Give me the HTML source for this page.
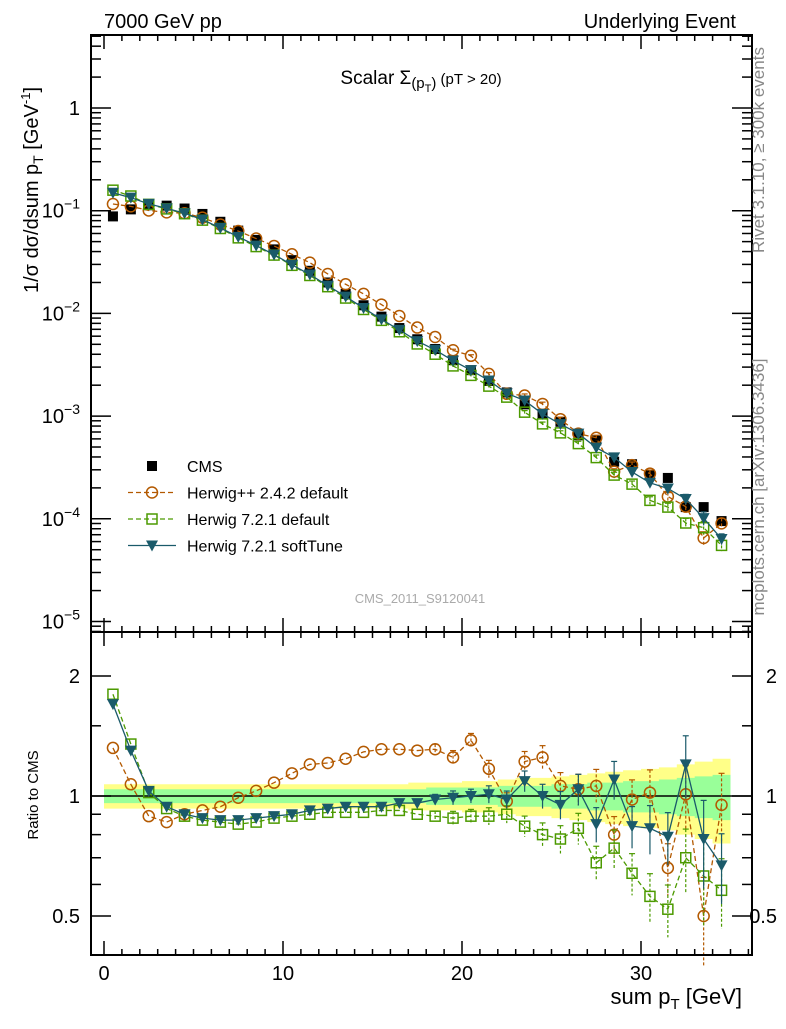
<!DOCTYPE html>
<html><head><meta charset="utf-8"><style>
body{margin:0;background:#fff}
svg text{font-family:"Liberation Sans",Arial,sans-serif}
</style></head><body>
<svg id="c" width="786" height="1024" viewBox="0 0 786 1024" xmlns="http://www.w3.org/2000/svg">
<g id="bands"></g><g id="plots"></g><g id="axes"></g>
<text x="104" y="28" font-size="20">7000 GeV pp</text>
<text x="736" y="28" font-size="20" text-anchor="end">Underlying Event</text>
<text x="421" y="84" font-size="19" text-anchor="middle">Scalar Σ<tspan font-size="15" dy="4">(p</tspan><tspan font-size="11" dy="4">T</tspan><tspan font-size="15" dy="-4">)</tspan><tspan font-size="15" dy="-4"> (pT &gt; 20)</tspan></text>
<text x="420" y="603" font-size="13" fill="#aaa" text-anchor="middle">CMS_2011_S9120041</text>
<text transform="translate(764,150) rotate(-90)" font-size="17" fill="#888" text-anchor="middle">Rivet 3.1.10, ≥ 300k events</text>
<text transform="translate(764,487) rotate(-90)" font-size="17" fill="#888" text-anchor="middle">mcplots.cern.ch [arXiv:1306.3436]</text>
<text transform="translate(38,190) rotate(-90)" font-size="20" text-anchor="middle">1/σ dσ/dsum p<tspan font-size="14" dy="5">T</tspan><tspan dy="-5"> [GeV</tspan><tspan font-size="13" dy="-8">-1</tspan><tspan dy="8">]</tspan></text>
<text transform="translate(38,795) rotate(-90)" font-size="15" text-anchor="middle">Ratio to CMS</text>
<text x="742" y="1004" font-size="22" text-anchor="end">sum p<tspan font-size="15" dy="5">T</tspan><tspan dy="-5"> [GeV]</tspan></text>
<g id="legend"></g>
</svg>
<script>
const xc=[0.5,1.5,2.5,3.5,4.5,5.5,6.5,7.5,8.5,9.5,10.5,11.5,12.5,13.5,14.5,15.5,16.5,17.5,18.5,19.5,20.5,21.5,22.5,23.5,24.5,25.5,26.5,27.5,28.5,29.5,30.5,31.5,32.5,33.5,34.5];
const cms=[0.088,0.103,0.113,0.112,0.105,0.093,0.078,0.064,0.052,0.042,0.033,0.026,0.020,0.0155,0.012,0.0093,0.0072,0.0056,0.0045,0.0035,0.0028,0.0022,0.0017,0.0013,0.00105,0.00088,0.00065,0.00058,0.00036,0.00034,0.00027,0.00025,0.00013,0.00013,0.000095];
const rHpp=[1.32,1.07,0.89,0.86,0.90,0.92,0.94,0.99,1.03,1.08,1.14,1.20,1.21,1.24,1.29,1.31,1.31,1.30,1.31,1.25,1.38,1.17,0.97,1.22,1.25,1.06,1.04,1.06,0.80,0.98,1.02,0.66,1.01,0.50,0.95];
const rH7=[1.80,1.35,1.02,0.93,0.89,0.87,0.86,0.85,0.86,0.88,0.89,0.90,0.91,0.91,0.91,0.92,0.92,0.90,0.89,0.88,0.89,0.89,0.90,0.84,0.80,0.78,0.83,0.68,0.74,0.64,0.56,0.52,0.70,0.63,0.58];
const rSoft=[1.70,1.30,1.03,0.94,0.90,0.88,0.87,0.87,0.88,0.89,0.90,0.92,0.93,0.94,0.94,0.94,0.96,0.96,0.98,0.99,1.00,1.01,0.98,1.09,1.00,0.95,1.04,0.85,1.10,0.84,0.83,0.79,1.20,0.78,0.67];
const errRel=[0.01,0.01,0.01,0.01,0.01,0.01,0.01,0.01,0.01,0.01,0.01,0.01,0.01,0.01,0.02,0.02,0.02,0.02,0.03,0.04,0.04,0.05,0.05,0.06,0.07,0.08,0.09,0.1,0.11,0.12,0.14,0.15,0.18,0.25,0.2];
const bandIn=[0.04,0.04,0.04,0.04,0.04,0.04,0.04,0.04,0.04,0.04,0.04,0.04,0.04,0.04,0.04,0.04,0.04,0.04,0.05,0.05,0.05,0.05,0.06,0.06,0.06,0.07,0.07,0.08,0.08,0.09,0.09,0.10,0.11,0.12,0.13];
const bandOut=[0.07,0.07,0.07,0.07,0.07,0.07,0.07,0.07,0.07,0.07,0.07,0.07,0.07,0.07,0.07,0.07,0.07,0.08,0.08,0.08,0.09,0.09,0.10,0.11,0.11,0.12,0.13,0.14,0.15,0.16,0.17,0.18,0.20,0.22,0.24];
const xTicks=[0,10,20,30];
const yTicks=[-5,-4,-3,-2,-1,0];
const rTicks=[0.5,1,2];

const NS="http://www.w3.org/2000/svg";
const L=91,R=752,T=35,M=632,B=955;
const X=v=>104+v*17.9;
const Y=v=>108-Math.log10(v)*102.7;
const RY=v=>796-Math.log2(v)*120;
function mk(p,tag,a){const e=document.createElementNS(NS,tag);for(const k in a)e.setAttribute(k,a[k]);p.appendChild(e);return e;}
const bands=document.getElementById('bands'),plots=document.getElementById('plots'),axes=document.getElementById('axes');
function bandPath(w){let up='',dn='';xc.forEach((x,i)=>{up+=(i?'L':'M')+X(x-0.5)+','+RY(1+w[i])+'L'+X(x+0.5)+','+RY(1+w[i]);});for(let i=xc.length-1;i>=0;i--){dn+='L'+X(xc[i]+0.5)+','+RY(1-w[i])+'L'+X(xc[i]-0.5)+','+RY(1-w[i]);}return up+dn+'Z';}
let b1=mk(bands,'path',{d:bandPath(bandOut),fill:'#ffff88'});


let b2=mk(bands,'path',{d:bandPath(bandIn),fill:'#99ff99'});


let l1=mk(bands,'line',{x1:L,x2:R,y1:RY(1),y2:RY(1),stroke:'#000','stroke-width':1.5});


function marker(g,type,cx,cy,col){
 if(type==='sq')return mk(g,'rect',{x:cx-5,y:cy-5,width:10,height:10,fill:col});
 if(type==='circ')return mk(g,'circle',{cx,cy,r:5.5,fill:'none',stroke:col,'stroke-width':1.5});
 if(type==='osq')return mk(g,'rect',{x:cx-5,y:cy-5,width:10,height:10,fill:'none',stroke:col,'stroke-width':1.5});
 if(type==='tri')return mk(g,'path',{d:`M${cx-6},${cy-5}L${cx+6},${cy-5}L${cx},${cy+6}Z`,fill:col});
}
const series=[
 {name:'herwigpp-242-default',r:rHpp,col:'#b35900',type:'circ',dash:'5,3'},
 {name:'herwig-721-default',r:rH7,col:'#4c9a00',type:'osq',dash:'5,3'},
 {name:'herwig-721-softtune',r:rSoft,col:'#1a5a6a',type:'tri',dash:''}
];
let gc=mk(plots,'g',{});


xc.forEach((x,i)=>{const m=marker(gc,'sq',X(x),Y(cms[i]),'#000');

});
series.forEach(s=>{
 [Y,RY].forEach((fy,pi)=>{
  const g=mk(plots,'g',{});
  
  
  const val=i=>pi?s.r[i]:s.r[i]*cms[i];
  let d='';xc.forEach((x,i)=>{d+=(i?'L':'M')+X(x)+','+fy(val(i));});
  mk(g,'path',{d,fill:'none',stroke:s.col,'stroke-width':1.3,'stroke-dasharray':s.dash});
  xc.forEach((x,i)=>{const v=val(i),e=errRel[i]*(pi?1:0.6);
   if(e>0.02){const y1=fy(v*(1+e)),y2=fy(Math.max(v*(1-e),1e-9));
    mk(g,'line',{x1:X(x),x2:X(x),y1,y2,stroke:s.col,'stroke-width':1.2,'stroke-dasharray':s.dash?'3,2':''});
    mk(g,'line',{x1:X(x)-3,x2:X(x)+3,y1,y2:y1,stroke:s.col,'stroke-width':1.2});}
   const m=marker(g,s.type,X(x),fy(v),s.col);
   
   });
 });
});
[[T,M],[M,B]].forEach(([t,b],k)=>{const f=mk(axes,'rect',{x:L,y:t,width:R-L,height:b-t,fill:'none',stroke:'#000','stroke-width':2});

});
for(let v=0;v<=36;v++){const maj=v%10===0,h=maj?14:6;
 [T,M].forEach(t=>mk(axes,'line',{x1:X(v),x2:X(v),y1:t,y2:t+h,stroke:'#000','stroke-width':1.5}));
 [M,B].forEach(b=>mk(axes,'line',{x1:X(v),x2:X(v),y1:b,y2:b-h,stroke:'#000','stroke-width':1.5}));}
xTicks.forEach(v=>{const t=mk(axes,'text',{x:X(v),y:980,'font-size':20,'text-anchor':'middle'});t.textContent=v;

});
for(let d=-6;d<=0;d++){for(let m=1;m<10;m++){const v=m*Math.pow(10,d),y=Y(v);if(y<T||y>M)continue;const h=m===1?20:10;
 mk(axes,'line',{x1:L,x2:L+h,y1:y,y2:y,stroke:'#000','stroke-width':1.5});
 mk(axes,'line',{x1:R,x2:R-h,y1:y,y2:y,stroke:'#000','stroke-width':1.5});}}
yTicks.forEach(p=>{const t=mk(axes,'text',{x:80,y:Y(Math.pow(10,p))+7,'font-size':20,'text-anchor':'end'});
 if(p===0)t.textContent='1';else{t.textContent='10';const s=mk(t,'tspan',{'font-size':14,dy:-9});s.textContent='−'+(-p);}
 
 });
[0.5,0.6,0.7,0.8,0.9,1,1.5,2].forEach(v=>{const maj=[0.5,1,2].includes(v),h=maj?20:10,y=RY(v);
 mk(axes,'line',{x1:L,x2:L+h,y1:y,y2:y,stroke:'#000','stroke-width':1.5});
 mk(axes,'line',{x1:R,x2:R-h,y1:y,y2:y,stroke:'#000','stroke-width':1.5});});
rTicks.forEach(v=>{[[80,'end'],[777,'end']].forEach(([x,a])=>{const t=mk(axes,'text',{x,y:RY(v)+7,'font-size':20,'text-anchor':a});t.textContent=v;

});});
const lg=document.getElementById('legend');
const items=[['CMS','sq','#000',''],['Herwig++ 2.4.2 default','circ','#b35900','5,3'],['Herwig 7.2.1 default','osq','#4c9a00','5,3'],['Herwig 7.2.1 softTune','tri','#1a5a6a','']];
items.forEach((it,i)=>{const y=466+i*26.5;const g=mk(lg,'g',{});
 
 
 if(i>0)mk(g,'line',{x1:128,x2:176,y1:y,y2:y,stroke:it[2],'stroke-width':1.3,'stroke-dasharray':it[3]});
 marker(g,it[1],152,y,it[2]);
 const t=mk(g,'text',{x:187,y:y+6,'font-size':16});t.textContent=it[0];});
</script>
</body></html>
